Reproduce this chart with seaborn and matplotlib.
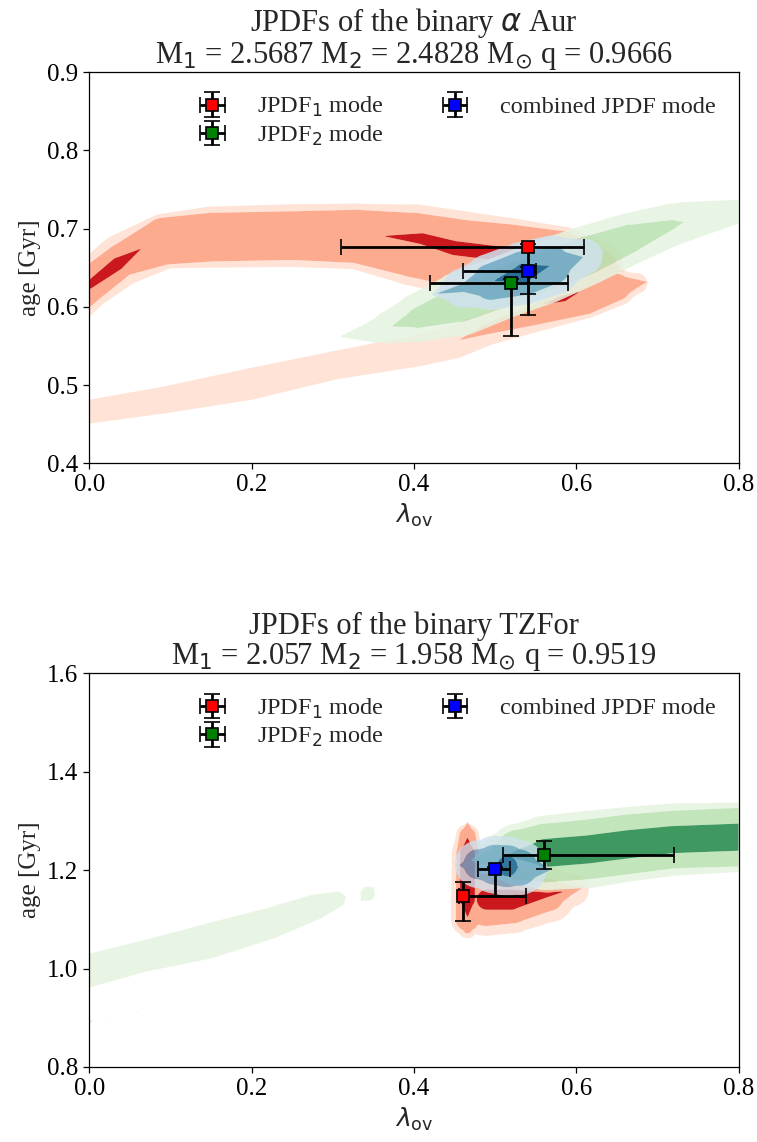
import numpy as np
import matplotlib
matplotlib.use("Agg")
import matplotlib.pyplot as plt
import seaborn as sns

# ------------------------------------------------------------------
# Credible regions of the joint PDFs, described along their ridges.
# Columns: lambda_ov, age [Gyr], half-width of the outer, middle and
# inner credible band (in Gyr).
# ------------------------------------------------------------------

# alpha Aur -- JPDF of component 1
aur_j1_upper = np.array([
    [-0.03, 0.606, 0.036, 0.027, 0.0],
    [0.00, 0.628, 0.031, 0.023, 0.0],
    [0.04, 0.660, 0.034, 0.022, 0.0],
    [0.093, 0.684, 0.036, 0.031, 0.0],
    [0.15, 0.689, 0.040, 0.032, 0.0],
    [0.25, 0.691, 0.041, 0.032, 0.0],
    [0.33, 0.690, 0.043, 0.035, 0.0],
    [0.40, 0.679, 0.053, 0.042, 0.0],
    [0.46, 0.668, 0.055, 0.044, 0.0],
    [0.52, 0.664, 0.050, 0.042, 0.0],
    [0.58, 0.662, 0.042, 0.036, 0.0],
    [0.63, 0.655, 0.030, 0.020, 0.0],
    [0.66, 0.645, 0.000, 0.000, 0.0],
])
aur_j1_lower = np.array([
    [-0.03, 0.461, 0.016, 0.0, 0.0],
    [0.00, 0.466, 0.016, 0.0, 0.0],
    [0.093, 0.481, 0.018, 0.0, 0.0],
    [0.197, 0.501, 0.021, 0.0, 0.0],
    [0.301, 0.525, 0.019, 0.0, 0.0],
    [0.405, 0.544, 0.021, 0.0, 0.0],
    [0.45, 0.555, 0.022, 0.0, 0.0],
    [0.49, 0.572, 0.022, 0.008, 0.0],
    [0.55, 0.590, 0.023, 0.014, 0.0],
    [0.61, 0.612, 0.028, 0.023, 0.0],
    [0.65, 0.625, 0.025, 0.018, 0.0],
    [0.675, 0.630, 0.014, 0.006, 0.0],
    [0.69, 0.632, 0.000, 0.000, 0.0],
])
aur_j1_peak_a = np.array([
    [0.000, 0.628, 0.006, 0.006, 0.006],
    [0.035, 0.655, 0.009, 0.009, 0.009],
    [0.068, 0.677, 0.000, 0.000, 0.000],
])
aur_j1_peak_b = np.array([
    [0.355, 0.691, 0.000, 0.000, 0.000],
    [0.41, 0.687, 0.008, 0.008, 0.008],
    [0.45, 0.675, 0.010, 0.010, 0.010],
    [0.49, 0.670, 0.010, 0.010, 0.010],
    [0.525, 0.671, 0.005, 0.005, 0.005],
    [0.535, 0.674, 0.000, 0.000, 0.000],
])
aur_j1_peak_c = np.array([
    [0.55, 0.601, 0.000, 0.000, 0.000],
    [0.585, 0.611, 0.005, 0.005, 0.005],
    [0.61, 0.622, 0.000, 0.000, 0.000],
])

# alpha Aur -- JPDF of component 2
aur_j2 = np.array([
    [0.305, 0.561, 0.000, 0.000, 0.0],
    [0.353, 0.569, 0.016, 0.000, 0.0],
    [0.37, 0.574, 0.022, 0.000, 0.0],
    [0.405, 0.586, 0.032, 0.014, 0.0],
    [0.458, 0.604, 0.042, 0.024, 0.0],
    [0.51, 0.625, 0.041, 0.026, 0.0],
    [0.562, 0.645, 0.042, 0.026, 0.0],
    [0.614, 0.666, 0.039, 0.025, 0.0],
    [0.666, 0.687, 0.034, 0.019, 0.0],
    [0.718, 0.705, 0.028, 0.007, 0.0],
    [0.735, 0.709, 0.026, 0.000, 0.0],
    [0.80, 0.722, 0.016, 0.000, 0.0],
    [0.85, 0.730, 0.010, 0.000, 0.0],
])

# alpha Aur -- combined JPDF
aur_comb = np.array([
    [0.42, 0.615, 0.000, 0.000, 0.000],
    [0.46, 0.624, 0.026, 0.006, 0.000],
    [0.495, 0.632, 0.037, 0.024, 0.000],
    [0.535, 0.643, 0.041, 0.029, 0.013],
    [0.57, 0.653, 0.039, 0.025, 0.000],
    [0.61, 0.664, 0.024, 0.000, 0.000],
    [0.635, 0.672, 0.000, 0.000, 0.000],
])

# TZ For -- JPDF of component 1
tz_j1_edge = np.array([
    [0.466, 1.300, 0.000, 0.000, 0.0000],
    [0.466, 1.270, 0.025, 0.018, 0.0000],
    [0.466, 1.235, 0.033, 0.024, 0.0165],
    [0.466, 1.140, 0.035, 0.025, 0.0165],
    [0.466, 1.100, 0.035, 0.025, 0.0000],
    [0.466, 1.080, 0.020, 0.010, 0.0000],
])
tz_j1_body = np.array([
    [0.49, 1.140, 0.075, 0.055, 0.022],
    [0.52, 1.140, 0.070, 0.050, 0.022],
    [0.565, 1.150, 0.058, 0.035, 0.006],
    [0.595, 1.160, 0.035, 0.010, 0.000],
    [0.615, 1.170, 0.000, 0.000, 0.000],
])
tz_j1_speck_a = np.array([[0.002, 0.893, 0.004, 0.0, 0.0]])
tz_j1_speck_b = np.array([[0.022, 0.892, 0.003, 0.0, 0.0]])
tz_j1_speck_c = np.array([[0.059, 0.912, 0.003, 0.0, 0.0]])

# TZ For -- JPDF of component 2
tz_j2_tail = np.array([
    [-0.03, 0.985, 0.035, 0.0, 0.0],
    [0.000, 0.996, 0.035, 0.0, 0.0],
    [0.067, 1.025, 0.033, 0.0, 0.0],
    [0.145, 1.055, 0.037, 0.0, 0.0],
    [0.223, 1.092, 0.033, 0.0, 0.0],
    [0.280, 1.126, 0.027, 0.0, 0.0],
    [0.305, 1.140, 0.018, 0.0, 0.0],
    [0.318, 1.146, 0.000, 0.0, 0.0],
])
tz_j2_island = np.array([
    [0.333, 1.135, 0.000, 0.0, 0.0],
    [0.343, 1.152, 0.016, 0.0, 0.0],
    [0.352, 1.168, 0.000, 0.0, 0.0],
])
tz_j2_main = np.array([
    [0.47, 1.220, 0.000, 0.000, 0.000],
    [0.51, 1.228, 0.050, 0.030, 0.000],
    [0.53, 1.232, 0.065, 0.052, 0.012],
    [0.562, 1.235, 0.077, 0.061, 0.030],
    [0.614, 1.242, 0.080, 0.062, 0.030],
    [0.666, 1.253, 0.077, 0.062, 0.030],
    [0.718, 1.262, 0.075, 0.060, 0.029],
    [0.80, 1.267, 0.072, 0.061, 0.029],
    [0.85, 1.272, 0.072, 0.061, 0.029],
])

# TZ For -- combined JPDF
tz_comb = np.array([
    [0.455, 1.210, 0.000, 0.000, 0.000],
    [0.48, 1.212, 0.050, 0.032, 0.000],
    [0.50, 1.211, 0.060, 0.042, 0.000],
    [0.515, 1.208, 0.062, 0.044, 0.022],
    [0.53, 1.205, 0.057, 0.038, 0.000],
    [0.57, 1.200, 0.000, 0.000, 0.000],
])

# Modes with their uncertainties: JPDF1, JPDF2, combined
aur_lam = [0.54, 0.52, 0.54]
aur_age = [0.676, 0.631, 0.646]
aur_lam_lo = [0.23, 0.10, 0.08]
aur_lam_hi = [0.07, 0.07, 0.01]
aur_age_lo = [0.086, 0.068, 0.029]
aur_age_hi = [0.004, 0.005, 0.005]

tz_lam = [0.46, 0.56, 0.50]
tz_age = [1.148, 1.231, 1.202]
tz_lam_lo = [0.004, 0.05, 0.021]
tz_lam_hi = [0.078, 0.16, 0.018]
tz_age_lo = [0.052, 0.029, 0.054]
tz_age_hi = [0.027, 0.028, 0.005]

mode_labels = [r"JPDF$_1$ mode", r"JPDF$_2$ mode", "combined JPDF mode"]
mode_colors = ["red", "green", "blue"]

titles = [
    "JPDFs of the binary $\\alpha$ Aur\n"
    "M$_1$ = 2.5687 M$_2$ = 2.4828 M$_{\\odot}$ q = 0.9666",
    "JPDFs of the binary TZFor\n"
    "M$_1$ = 2.057 M$_2$ = 1.958 M$_{\\odot}$ q = 0.9519",
]

# ------------------------------------------------------------------
sns.set_theme(style="ticks")
plt.rcParams.update({
    "font.family": ["Liberation Serif", "DejaVu Serif"],
    "mathtext.fontset": "dejavusans",
    "axes.linewidth": 0.9,
    "axes.edgecolor": "black",
    "xtick.color": "black",
    "ytick.color": "black",
    "xtick.major.size": 4.5,
    "ytick.major.size": 4.5,
    "xtick.major.width": 0.9,
    "ytick.major.width": 0.9,
    "xtick.labelsize": 18,
    "ytick.labelsize": 18,
})

red_bands = ["#fee3d6", "#fcab8f", "#cb181d"]
green_bands = ["#e6f4e1", "#bae2b2", "#258a4b"]
blue_bands = ["#cfe2ee", "#6ea7c9", "#0e5b96"]


def band_field(gx, gy, ridge, k, sx, sy):
    """Signed distance (px) to band k of a ridge: >0 inside."""
    X, Y = gx * sx, gy * sy
    px, py = ridge[:, 0] * sx, ridge[:, 1] * sy
    h = ridge[:, 2 + k] * sy
    if len(ridge) == 1:
        return h[0] - np.hypot(X - px[0], Y - py[0])
    out = np.full(X.shape, -1e9)
    for i in range(len(ridge) - 1):
        dx, dy = px[i + 1] - px[i], py[i + 1] - py[i]
        t = np.clip(((X - px[i]) * dx + (Y - py[i]) * dy) / (dx * dx + dy * dy), 0, 1)
        d = np.hypot(X - (px[i] + t * dx), Y - (py[i] + t * dy))
        out = np.maximum(out, h[i] + t * (h[i + 1] - h[i]) - d)
    return out


def draw_jpdf(ax, ridges, colors, alpha, ylim, sx, sy):
    gx, gy = np.meshgrid(np.linspace(0, 0.8, 640), np.linspace(ylim[0], ylim[1], 420))
    level = np.zeros(gx.shape)
    for k in range(3):
        s = np.max([band_field(gx, gy, r, k, sx, sy) for r in ridges], axis=0)
        level += np.clip(s / 1.5, 0, 1)
    ax.contourf(gx, gy, level, levels=[0.5, 1.5, 2.5, 3.5], colors=colors,
                alpha=alpha, antialiased=True)


def draw_modes(ax, lam, age, lam_lo, lam_hi, age_lo, age_hi):
    for i in range(3):
        ax.errorbar([lam[i]], [age[i]],
                    xerr=[[lam_lo[i]], [lam_hi[i]]], yerr=[[age_lo[i]], [age_hi[i]]],
                    fmt="s", ms=8, mfc=mode_colors[i], mec="black", mew=1.2,
                    ecolor="black", elinewidth=2.0, capsize=6, label=mode_labels[i],
                    zorder=5 + i)
    ax.legend(loc="upper right", ncol=2, frameon=False, fontsize=17.5,
              handlelength=2.0, handletextpad=0.85, columnspacing=1.9,
              labelspacing=0.18, borderaxespad=0.55)


fig = plt.figure(figsize=(7.57, 11.42), dpi=100)
ax1 = fig.add_axes([0.118, 0.5943, 0.8576, 0.3426])
ax2 = fig.add_axes([0.118, 0.0657, 0.8576, 0.3447])

# alpha Aur panel
ylim1 = (0.4, 0.9)
sx1, sy1 = 649 / 0.8, 391 / 0.5
draw_jpdf(ax1, [aur_j1_upper, aur_j1_lower, aur_j1_peak_a, aur_j1_peak_b, aur_j1_peak_c],
          red_bands, 1.0, ylim1, sx1, sy1)
draw_jpdf(ax1, [aur_j2], green_bands, 0.88, ylim1, sx1, sy1)
draw_jpdf(ax1, [aur_comb], blue_bands, 0.85, ylim1, sx1, sy1)
draw_modes(ax1, aur_lam, aur_age, aur_lam_lo, aur_lam_hi, aur_age_lo, aur_age_hi)
ax1.set_xlim(0, 0.8)
ax1.set_ylim(*ylim1)
ax1.set_yticks([0.4, 0.5, 0.6, 0.7, 0.8, 0.9])

# TZ For panel
ylim2 = (0.8, 1.6)
sx2, sy2 = 649 / 0.8, 394 / 0.8
draw_jpdf(ax2, [tz_j1_edge, tz_j1_body, tz_j1_speck_a, tz_j1_speck_b, tz_j1_speck_c],
          red_bands, 1.0, ylim2, sx2, sy2)
draw_jpdf(ax2, [tz_j2_tail, tz_j2_island, tz_j2_main], green_bands, 0.88, ylim2, sx2, sy2)
draw_jpdf(ax2, [tz_comb], blue_bands, 0.8, ylim2, sx2, sy2)
draw_modes(ax2, tz_lam, tz_age, tz_lam_lo, tz_lam_hi, tz_age_lo, tz_age_hi)
ax2.set_xlim(0, 0.8)
ax2.set_ylim(*ylim2)
ax2.set_yticks([0.8, 1.0, 1.2, 1.4, 1.6])

for ax, title in zip([ax1, ax2], titles):
    ax.set_xticks([0.0, 0.2, 0.4, 0.6, 0.8])
    ax.xaxis.set_major_formatter(matplotlib.ticker.FormatStrFormatter("%.1f"))
    ax.yaxis.set_major_formatter(matplotlib.ticker.FormatStrFormatter("%.1f"))
    ax.set_xlabel(r"$\lambda_{\rm ov}$", fontsize=18)
    ax.set_ylabel("age [Gyr]", fontsize=18)
    ax.set_title(title, fontsize=22, linespacing=1.0)

fig.savefig("out.png", dpi=100)
